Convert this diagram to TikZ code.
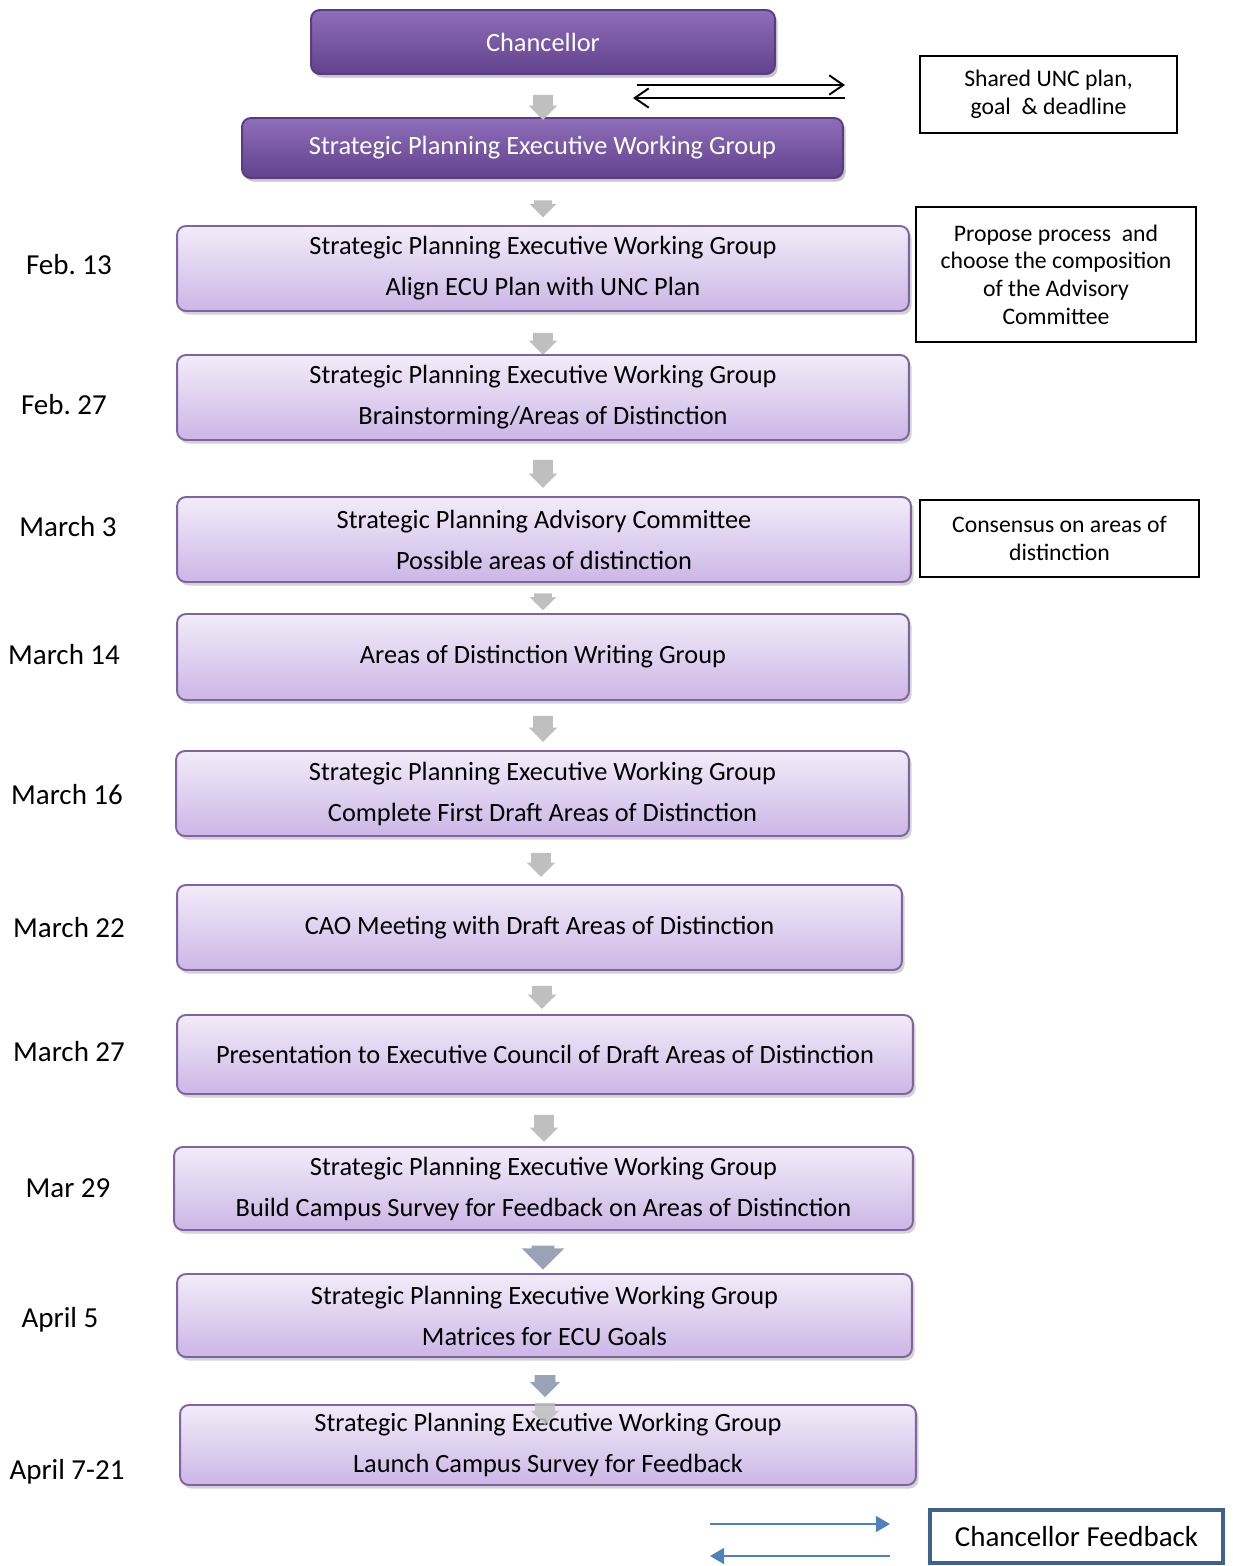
\documentclass[tikz,border=0pt]{standalone}
\usepackage{fontspec}
\setmainfont{Carlito}
\usetikzlibrary{shapes.arrows,shadows,arrows.meta}
\definecolor{lilacTop}{HTML}{F2ECF9}
\definecolor{lilacBottom}{HTML}{CCB6E6}
\definecolor{lilacLine}{HTML}{8064A2}
\definecolor{plumTop}{HTML}{8F6DBA}
\definecolor{plumBottom}{HTML}{61428C}
\definecolor{plumLine}{HTML}{5A3D80}
\definecolor{arrowGray}{HTML}{BFBFBF}
\definecolor{slateGray}{HTML}{9AA3B5}
\definecolor{feedbackBlue}{HTML}{4F81BD}
\definecolor{feedbackLine}{HTML}{3F618E}

\begin{document}
\frenchspacing
\begin{tikzpicture}[x=0.02cm, y=-0.02cm,
    planbox/.style={draw=lilacLine, line width=1.1pt, rounded corners=5pt,
      top color=lilacTop, bottom color=lilacBottom,
      drop shadow={shadow xshift=1.5pt, shadow yshift=-2pt, opacity=0.35},
      align=center, inner sep=0pt, minimum height=1.7cm,
      font=\fontsize{15}{23.3}\selectfont},
    topbox/.style={draw=plumLine, line width=1.1pt, rounded corners=5pt,
      top color=plumTop, bottom color=plumBottom, text=white,
      drop shadow={shadow xshift=1.5pt, shadow yshift=-2pt, opacity=0.45},
      align=center, inner sep=0pt, font=\fontsize{15}{18}\selectfont},
    notebox/.style={draw=black, line width=0.9pt, fill=white, align=center,
      inner sep=0pt, font=\fontsize{13.5}{15.8}\selectfont},
    datelabel/.style={font=\fontsize{16.5}{20}\selectfont},
    grayarrow/.style={single arrow, rotate=-90, fill=arrowGray, draw=none,
      inner xsep=0pt, inner ysep=0.19cm, single arrow head extend=0.09cm,
      minimum height=0.5cm},
    barb/.style={line width=1.1pt, -{Straight Barb[length=8pt,width=11pt]}},
    bluearrow/.style={draw=feedbackBlue, line width=1.3pt,
      -{Triangle[length=8pt,width=9pt]}}
  ]
  \useasboundingbox (0,0) rectangle (1232,1566);

  % top of the chart
  \node[topbox, minimum width=9.28cm, minimum height=1.28cm] (chancellor) at (543,42) {Chancellor};
  \node[topbox, minimum width=12.02cm, minimum height=1.2cm] (spewg) at (542.5,148) {Strategic Planning Executive Working Group};
  \node[grayarrow] (g0) at (543,102.5) {};

  % exchange with the side note
  \coordinate (sendL) at (637,85);
  \coordinate (sendR) at (845,85);
  \coordinate (backR) at (845,98);
  \coordinate (backL) at (633,98);
  \draw[barb] (sendL) -- (sendR);
  \draw[barb] (backR) -- (backL);

  % side notes
  \node[notebox, minimum width=5.14cm, minimum height=1.54cm] (shared) at (1048.5,94.5) {Shared UNC plan,\\goal\ \ \& deadline};
  \node[notebox, minimum width=5.6cm, minimum height=2.7cm] (propose) at (1056,274.5) {Propose process\ \ and\\choose the composition\\of the Advisory\\Committee};
  \node[notebox, minimum width=5.58cm, minimum height=1.54cm] (consensus) at (1059.5,538.5) {Consensus on areas of\\distinction};

  % steps
  \node[grayarrow, minimum height=0.34cm, inner ysep=0.17cm] (g1) at (543,204.5) {};
  \node[planbox, minimum width=14.64cm] (s1) at (543,268.5) {Strategic Planning Executive Working Group\\Align ECU Plan with UNC Plan};
  \node[grayarrow, minimum height=0.44cm] (g2) at (543,339) {};
  \node[planbox, minimum width=14.64cm] (s2) at (543,397.5) {Strategic Planning Executive Working Group\\Brainstorming/Areas of Distinction};
  \node[grayarrow, minimum height=0.56cm] (g3) at (543,469) {};
  \node[grayarrow, minimum height=0.34cm, inner ysep=0.17cm] (g4) at (543,597.5) {};
  \node[planbox, minimum width=14.68cm] (s3) at (544,539.5) {Strategic Planning Advisory Committee\\Possible areas of distinction};
  \node[planbox, minimum width=14.64cm, minimum height=1.72cm] (s4) at (543,657) {Areas of Distinction Writing Group};
  \node[grayarrow, minimum height=0.52cm] (g5) at (543,724) {};
  \node[planbox, minimum width=14.66cm] (s5) at (542.5,793.5) {Strategic Planning Executive Working Group\\Complete First Draft Areas of Distinction};
  \node[grayarrow, minimum height=0.48cm] (g6) at (541,860) {};
  \node[planbox, minimum width=14.5cm] (s6) at (539.5,927.5) {CAO Meeting with Draft Areas of Distinction};
  \node[grayarrow, minimum height=0.46cm] (g7) at (542,992.5) {};
  \node[planbox, minimum width=14.72cm, minimum height=1.58cm] (s7) at (545,1054.5) {Presentation to Executive Council of Draft Areas of Distinction};
  \node[grayarrow, minimum height=0.54cm] (g8) at (544,1123.5) {};
  \node[planbox, minimum width=14.78cm, minimum height=1.66cm] (s8) at (543.5,1188.5) {Strategic Planning Executive Working Group\\Build Campus Survey for Feedback on Areas of Distinction};
  \node[grayarrow, fill=slateGray, minimum height=0.48cm, inner ysep=0.22cm, single arrow head extend=0.2cm] (g9) at (543,1252) {};
  \node[planbox, minimum width=14.7cm, minimum height=1.66cm] (s9) at (544.5,1315.5) {Strategic Planning Executive Working Group\\Matrices for ECU Goals};
  \node[grayarrow, fill=slateGray, minimum height=0.44cm, inner ysep=0.2cm, single arrow head extend=0.1cm] (g10) at (545,1381) {};
  \node[planbox, minimum width=14.72cm, minimum height=1.6cm] (s10) at (548,1445) {Strategic Planning Executive Working Group\\Launch Campus Survey for Feedback};
  \node[grayarrow, opacity=0.85, minimum height=0.44cm] (g11) at (545,1409) {};

  % dates
  \node[datelabel] (d1) at (69,265) {Feb. 13};
  \node[datelabel] (d2) at (64,405) {Feb. 27};
  \node[datelabel] (d3) at (68,527) {March 3};
  \node[datelabel] (d4) at (64,655) {March 14};
  \node[datelabel] (d5) at (67,795) {March 16};
  \node[datelabel] (d6) at (69,928) {March 22};
  \node[datelabel] (d7) at (69,1052) {March 27};
  \node[datelabel] (d8) at (68,1188) {Mar 29};
  \node[datelabel] (d9) at (60,1320) {April 5};
  \node[datelabel] (d10) at (67,1472) {April 7-21};

  % feedback
  \node[draw=feedbackLine, line width=2.6pt, inner sep=0pt, minimum width=5.86cm, minimum height=1.06cm, font=\fontsize{16.5}{20}\selectfont] (feedback) at (1076.5,1536.5) {Chancellor Feedback};
  \coordinate (outL) at (710,1524);
  \coordinate (outR) at (890,1524);
  \coordinate (inR) at (890,1556);
  \coordinate (inL) at (710,1556);
  \draw[bluearrow] (outL) -- (outR);
  \draw[bluearrow] (inR) -- (inL);

\end{tikzpicture}
\end{document}
